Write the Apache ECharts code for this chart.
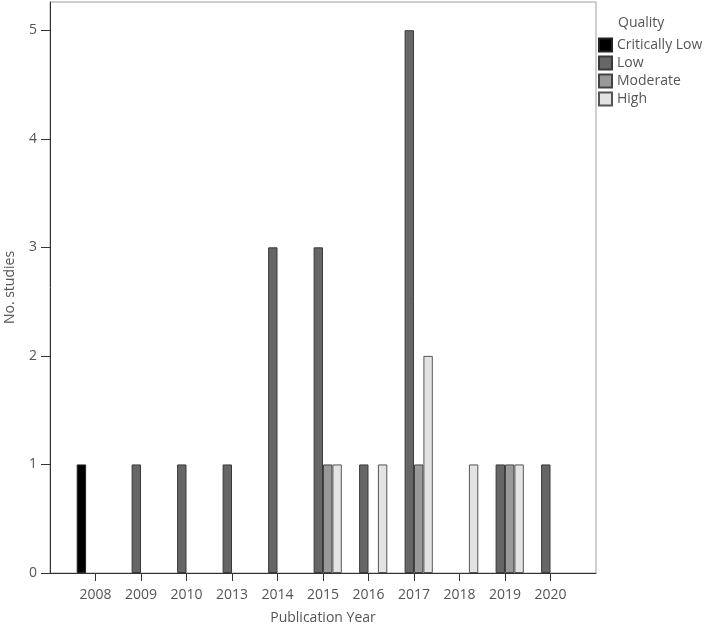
<!DOCTYPE html>
<html>
<head>
<meta charset="utf-8">
<script src="https://cdn.jsdelivr.net/npm/echarts@6/dist/echarts.min.js"></script>
<style>html,body{margin:0;padding:0;background:#fff;}#c{width:709px;height:630px;}</style>
</head>
<body>
<div id="c"></div>
<script>
const years = ['2008','2009','2010','2013','2014','2015','2016','2017','2018','2019','2020'];
const criticallyLow = [1,0,0,0,0,0,0,0,0,0,0];
const low          = [0,1,1,1,3,3,1,5,0,1,1];
const moderate     = [0,0,0,0,0,1,0,1,0,1,0];
const high         = [0,0,0,0,0,1,1,2,1,1,0];
const yTicks = [0,1,2,3,4,5];

const cats = [''].concat(years, ['']);
const pad = arr => [null].concat(arr.map(v => (v === 0 ? null : v)), [null]);
const font = '"Open Sans", sans-serif';
const txt = '#555';

function bar(name, data, fill, border) {
  return {
    name: name, type: 'bar', data: pad(data), barWidth: 9.4, barGap: '0%',
    itemStyle: { color: fill, borderColor: border, borderWidth: 1 },
    emphasis: { disabled: true }
  };
}

const chart = echarts.init(document.getElementById('c'), null, { renderer: 'canvas' });
chart.setOption({
  animation: false,
  textStyle: { fontFamily: font },
  title: {
    text: 'Quality', left: 618, top: 16, padding: 0,
    textStyle: { fontFamily: font, fontSize: 14, fontWeight: 'normal', color: txt }
  },
  legend: {
    orient: 'vertical', left: 598, top: 37.5, padding: 0,
    icon: 'rect', itemWidth: 13, itemHeight: 13, itemGap: 3,
    textStyle: { fontFamily: font, fontSize: 14, color: txt, padding: [0, 0, 0, 0] },
    data: ['Critically Low', 'Low', 'Moderate', 'High']
  },
  grid: {
    left: 50, right: 113, top: 2, bottom: 57, outerBoundsMode: 'none',
    show: true, borderColor: '#a0a0a0', borderWidth: 1, backgroundColor: 'transparent'
  },
  xAxis: {
    type: 'category', data: cats, boundaryGap: false,
    name: 'Publication Year', nameLocation: 'middle', nameGap: 38,
    nameTextStyle: { fontFamily: font, fontSize: 14, color: txt },
    axisLine: { lineStyle: { color: '#333', width: 1 } },
    axisTick: { length: 8, interval: (i, v) => v !== '', lineStyle: { color: '#333' } },
    axisLabel: { interval: 0, margin: 15, fontFamily: font, fontSize: 14, color: txt },
    splitLine: { show: false }
  },
  yAxis: {
    type: 'value', min: 0, max: 5.26,
    name: 'No. studies', nameLocation: 'middle', nameGap: 33, nameRotate: 90,
    nameTextStyle: { fontFamily: font, fontSize: 14, color: txt },
    axisLine: { show: true, lineStyle: { color: '#333', width: 1 } },
    axisTick: { show: true, length: 9, customValues: yTicks, lineStyle: { color: '#333' } },
    axisLabel: { customValues: yTicks, margin: 13, fontFamily: font, fontSize: 14, color: txt },
    splitLine: { show: false }
  },
  series: [
    bar('Critically Low', criticallyLow, '#000000', '#222222'),
    bar('Low', low, '#666666', '#3a3a3a'),
    bar('Moderate', moderate, '#999999', '#444444'),
    bar('High', high, '#e3e3e3', '#555555')
  ]
});
</script>
</body>
</html>
